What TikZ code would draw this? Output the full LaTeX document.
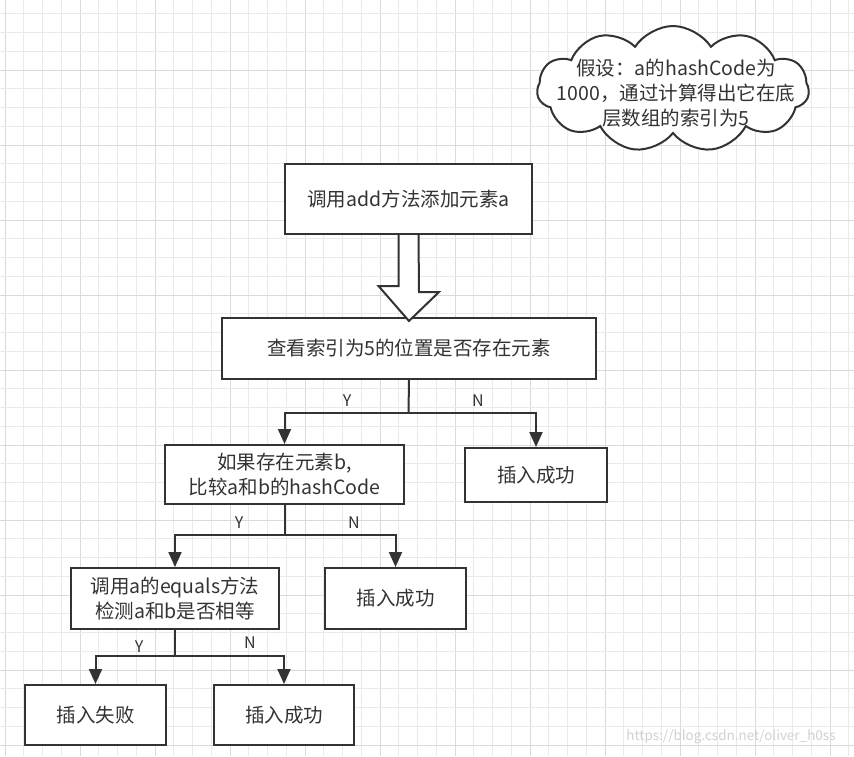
\documentclass[tikz,border=0pt]{standalone}
\usepackage{fontspec}
\setmainfont{Noto Sans CJK SC}
\usetikzlibrary{arrows.meta,shapes.symbols}
\definecolor{ink}{HTML}{333333}
\definecolor{gridminor}{HTML}{EAEAEA}
\definecolor{gridmajor}{HTML}{DADADA}
\begin{document}
\begin{tikzpicture}[x=1pt,y=-1pt,
  box/.style={draw=ink,line width=2pt,fill=white,inner sep=0pt,text=ink,align=center,
    font=\fontsize{19.5}{25}\selectfont},
  lbl/.style={text=ink,font=\fontsize{16}{18}\selectfont,inner sep=0pt},
  conn/.style={draw=ink,line width=2pt},
  arr/.style={conn,-{Triangle[width=13pt,length=15pt]}}]
\useasboundingbox (0,0) rectangle (854,756);
\fill[white] (0,0) rectangle (854,756);
% grid
\foreach \i in {0,...,45} {
  \pgfmathsetmacro\gx{5+18.75*\i}
  \pgfmathtruncatemacro\m{mod(\i,4)}
  \ifnum\m=0 \draw[gridmajor,line width=1pt] (\gx,0) -- (\gx,756);
  \else \draw[gridminor,line width=1pt] (\gx,0) -- (\gx,756); \fi
}
\foreach \i in {0,...,40} {
  \pgfmathsetmacro\gy{13.75+18.75*\i}
  \pgfmathtruncatemacro\m{mod(\i+1,4)}
  \ifnum\m=0 \draw[gridmajor,line width=1pt] (0,\gy) -- (854,\gy);
  \else \draw[gridminor,line width=1pt] (0,\gy) -- (854,\gy); \fi
}
% cloud
\node[cloud,cloud puffs=11,cloud puff arc=115,aspect=2.2,draw=ink,line width=2pt,fill=white,
  minimum width=272pt,minimum height=126pt,inner sep=0pt] (cl) at (673,89) {};
\node[text=ink,align=center,font=\fontsize{19.5}{25}\selectfont,inner sep=0pt] (clt) at (676,93)
  {假设：a的hashCode为\\1000，通过计算得出它在底\\层数组的索引为5};
% boxes
\node[box,minimum width=247pt,minimum height=70pt] (b1) at (408.5,199) {调用add方法添加元素a};
\node[box,minimum width=374pt,minimum height=61pt] (b2) at (409,348.5) {查看索引为5的位置是否存在元素};
\node[box,minimum width=239pt,minimum height=59pt] (b3) at (284.5,474.5) {如果存在元素b,\\比较a和b的hashCode};
\node[box,minimum width=142pt,minimum height=54pt] (b4) at (536,475) {插入成功};
\node[box,minimum width=208pt,minimum height=61pt] (b5) at (175,598.5) {调用a的equals方法\\检测a和b是否相等};
\node[box,minimum width=141pt,minimum height=61pt] (b6) at (395.5,598.5) {插入成功};
\node[box,minimum width=141pt,minimum height=60pt] (b7) at (95.5,715) {插入失败};
\node[box,minimum width=140pt,minimum height=60pt] (b8) at (284,715) {插入成功};
% big hollow arrow
\draw[ink,line width=2pt,fill=white,line join=miter]
  ([xshift=-10pt]b1.south) -- ++(0,51) -- ++(-20,0) -- ([yshift=-4pt]b2.north)
  -- ++(30,-29) -- ++(-20,0) -- ([xshift=10pt]b1.south);
% junctions
\coordinate (j1) at (408.5,413);
\coordinate (j2) at (284.5,535);
\coordinate (j3) at (175,656);
\draw[conn] (b2.south) -- (j1);
\draw[arr] (j1) -| (b3.north);
\draw[arr] (j1) -| (b4.north);
\draw[conn] (b3.south) -- (j2);
\draw[arr] (j2) -| (b5.north);
\draw[arr] (j2) -| (b6.north);
\draw[conn] (b5.south) -- (j3);
\draw[arr] (j3) -| (b7.north);
\draw[arr] (j3) -| (b8.north);
% labels
\node[lbl] (y1) at (347,401) {Y};
\node[lbl] (n1) at (478,401) {N};
\node[lbl] (y2) at (239,523) {Y};
\node[lbl] (n2) at (354,523) {N};
\node[lbl] (y3) at (139,647) {Y};
\node[lbl] (n3) at (250,643) {N};
% watermark
\node[text=black!18,font=\fontsize{13.5}{15}\selectfont,inner sep=0pt] (wm) at (731,737) {https://blog.csdn.net/oliver\_h0ss};
\end{tikzpicture}
\end{document}
